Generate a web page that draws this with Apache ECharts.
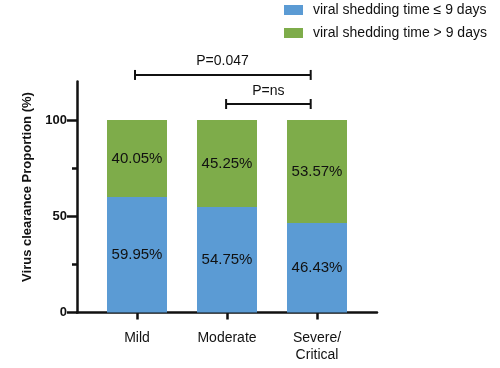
<!DOCTYPE html>
<html>
<head>
<meta charset="utf-8">
<script src="https://cdn.jsdelivr.net/npm/echarts@6/dist/echarts.min.js"></script>
<style>html,body{margin:0;padding:0;background:#fff}#c{width:500px;height:368px}</style>
</head>
<body>
<div id="c"></div>
<script>
var categories = ['Mild', 'Moderate', 'Severe/\nCritical'];
var seriesNames = ['viral shedding time \u2264 9 days', 'viral shedding time > 9 days'];
var shortShedding = [59.95, 54.75, 46.43];
var longShedding = [40.05, 45.25, 53.57];
var yTickLabels = [0, 50, 100];
var yMinorTicks = [25, 75];
var comparisons = [
  { from: 0.978, to: 2.93, y: 123.4, label: 'P=0.047', labelX: 1.95, labelY: 130.8 },
  { from: 1.99, to: 2.93, y: 108.3, label: 'P=ns', labelX: 2.46, labelY: 115.2 }
];

var blue = '#5b9bd4';
var green = '#7eac4a';
var ink = '#111';
var font = 'Liberation Sans, Arial, sans-serif';

function pct(p) { return Number(p.value).toFixed(2) + '%'; }

var series = [
  {
    name: seriesNames[0], type: 'bar', stack: 's', barWidth: 60, xAxisIndex: 0, yAxisIndex: 0,
    itemStyle: { color: blue },
    label: { show: true, position: 'inside', color: ink, fontSize: 15, fontFamily: font, formatter: pct },
    data: shortShedding
  },
  {
    name: seriesNames[1], type: 'bar', stack: 's', barWidth: 60, xAxisIndex: 0, yAxisIndex: 0,
    itemStyle: { color: green },
    label: { show: true, position: 'inside', color: ink, fontSize: 15, fontFamily: font, formatter: pct },
    data: longShedding
  }
];

comparisons.forEach(function (c) {
  series.push({
    type: 'line', clip: false, silent: true, xAxisIndex: 1, yAxisIndex: 1,
    symbol: 'rect', symbolSize: [2, 10], showSymbol: true,
    lineStyle: { color: ink, width: 2 }, itemStyle: { color: ink },
    data: [[c.from, c.y], [c.to, c.y]], z: 5
  });
  series.push({
    type: 'scatter', clip: false, silent: true, symbolSize: 0, xAxisIndex: 1, yAxisIndex: 1,
    itemStyle: { opacity: 1, color: ink },
    label: { show: true, position: 'inside', formatter: c.label, color: ink, fontSize: 14, fontFamily: font },
    data: [[c.labelX, c.labelY]], z: 5
  });
});

var chart = echarts.init(document.getElementById('c'), null, { renderer: 'canvas' });
chart.setOption({
  animation: false,
  backgroundColor: '#fff',
  legend: {
    data: seriesNames, orient: 'vertical', left: 284, top: 3, padding: 0,
    itemWidth: 19, itemHeight: 10, itemGap: 9, icon: 'rect',
    textStyle: { fontSize: 14, lineHeight: 14, color: ink, fontFamily: font, padding: [0, 0, 0, 5] }
  },
  grid: [
    { left: 92, right: 138, top: 81.5, bottom: 55.5 },
    { left: 77, right: 123, top: 81.5, bottom: 55.5 }
  ],
  xAxis: [
    {
      type: 'category', gridIndex: 0, data: categories,
      axisLine: { show: false },
      axisTick: { show: true, alignWithLabel: true, length: 7, lineStyle: { color: ink, width: 2.5 } },
      axisLabel: { margin: 17, color: ink, fontSize: 14, fontFamily: font, lineHeight: 17 }
    },
    {
      type: 'value', gridIndex: 1, min: 1 / 3, max: 11 / 3,
      splitLine: { show: false },
      axisLine: { show: true, lineStyle: { color: ink, width: 2.5 } },
      axisTick: { show: false }, axisLabel: { show: false }
    }
  ],
  yAxis: [
    {
      type: 'value', gridIndex: 0, min: 0, max: 120, show: false
    },
    {
      type: 'value', gridIndex: 1, min: 0, max: 120,
      name: 'Virus clearance Proportion (%)', nameLocation: 'middle', nameGap: 42,
      nameTextStyle: { fontSize: 13, fontWeight: 'bold', color: ink, fontFamily: font, padding: [0, 0, 0, 20] },
      splitLine: { show: false },
      axisLine: { show: true, lineStyle: { color: ink, width: 2.5 } },
      axisTick: { show: true, customValues: yTickLabels, length: 10, lineStyle: { color: ink, width: 2.5 } },
      axisLabel: { customValues: yTickLabels, margin: 10, color: ink, fontSize: 13, fontWeight: 'bold', fontFamily: font }
    },
    {
      type: 'value', gridIndex: 1, min: 0, max: 120, position: 'left',
      splitLine: { show: false },
      axisLine: { show: false },
      axisTick: { show: true, customValues: yMinorTicks, length: 5, lineStyle: { color: ink, width: 2.5 } },
      axisLabel: { show: false }
    }
  ],
  series: series
});
</script>
</body>
</html>
